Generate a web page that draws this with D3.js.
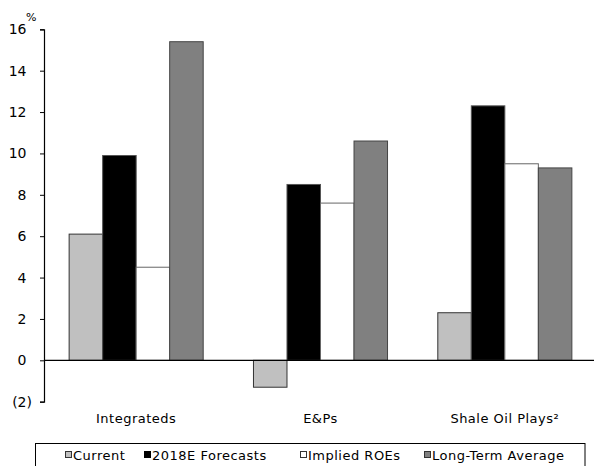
<!DOCTYPE html>
<html>
<head>
<meta charset="utf-8">
<script src="https://cdn.jsdelivr.net/npm/d3@7"></script>
<style>
  html, body { margin: 0; padding: 0; background: #fff; }
  svg text { font-family: "DejaVu Sans", Verdana, sans-serif; fill: #000; }
</style>
</head>
<body>
<svg id="chart" width="594" height="466"></svg>
<script>
// Return on equity by segment, %
const categories = ["Integrateds", "E&Ps", "Shale Oil Plays\u00B2"];
const seriesNames = ["Current", "2018E Forecasts", "Implied ROEs", "Long-Term Average"];
const current     = [6.1, -1.3, 2.3];
const forecast    = [9.9,  8.5, 12.3];
const impliedRoe  = [4.5,  7.6, 9.5];
const longTermAvg = [15.4, 10.6, 9.3];
const yTicks = [-2, 0, 2, 4, 6, 8, 10, 12, 14, 16];

const seriesValues = [current, forecast, impliedRoe, longTermAvg];
const fills   = ["#c0c0c0", "#000000", "#ffffff", "#808080"];
const strokes = ["#333333", "#555555", "#666666", "#444444"];

const svg = d3.select("#chart");
const plotLeft = 44, plotRight = 597, plotTop = 29.3, plotBottom = 401.7;

const x = d3.scaleBand().domain(categories).range([plotLeft, plotRight]).paddingInner(1.5 / 5.5).paddingOuter(0.75 / 5.5);
const xs = d3.scaleBand().domain(seriesNames).range([0, x.bandwidth()]);
const y = d3.scaleLinear().domain([-2, 16]).range([plotBottom, plotTop]);

// bars
const rows = categories.map((c, i) => ({ cat: c, vals: seriesNames.map((s, j) => ({ s, j, v: seriesValues[j][i] })) }));
const g = svg.append("g");
g.selectAll("g.cat").data(rows).join("g")
  .attr("transform", d => `translate(${x(d.cat)},0)`)
  .selectAll("rect").data(d => d.vals).join("rect")
  .attr("x", d => xs(d.s))
  .attr("width", xs.bandwidth())
  .attr("y", d => y(Math.max(0, d.v)))
  .attr("height", d => Math.abs(y(d.v) - y(0)))
  .attr("fill", d => fills[d.j])
  .attr("stroke", d => strokes[d.j])
  .attr("stroke-width", 1);

// zero line
svg.append("line")
  .attr("x1", plotLeft).attr("x2", plotRight)
  .attr("y1", y(0)).attr("y2", y(0))
  .attr("stroke", "#000").attr("stroke-width", 1.3);

// y axis
const fmt = v => v < 0 ? `(${Math.abs(v)})` : `${v}`;
const yAxis = svg.append("g")
  .attr("transform", `translate(${plotLeft},0)`)
  .call(d3.axisLeft(y).tickValues(yTicks).tickFormat(fmt).tickSize(4).tickSizeOuter(4).tickPadding(8));
yAxis.select(".domain").attr("stroke", "#000").attr("stroke-width", 1.2);
yAxis.selectAll(".tick line").attr("stroke", "#000");
yAxis.selectAll(".tick text")
  .attr("font-size", 14).attr("font-family", "DejaVu Sans")
  .attr("dx", d => d < 0 ? 0 : -5.5);

svg.append("text").attr("x", 26).attr("y", 21).attr("font-size", 11).text("%");

// category labels
svg.append("g").selectAll("text").data(categories).join("text")
  .attr("x", d => x(d) + x.bandwidth() / 2)
  .attr("y", 423.3)
  .attr("text-anchor", "middle")
  .attr("font-size", 13)
  .attr("letter-spacing", 0.5)
  .text(d => d);

// legend
svg.append("rect").attr("x", 35.5).attr("y", 443.5).attr("width", 549.5).attr("height", 40)
  .attr("fill", "none").attr("stroke", "#000").attr("stroke-width", 1);
const legendX = [65, 144, 300, 424];
const lg = svg.append("g").selectAll("g").data(seriesNames).join("g")
  .attr("transform", (d, i) => `translate(${legendX[i]},0)`);
lg.append("rect").attr("x", 0.5).attr("y", 451.5).attr("width", 6).attr("height", 6)
  .attr("fill", (d, i) => fills[i]).attr("stroke", (d, i) => i === 1 ? "#000" : "#333").attr("stroke-width", 1);
lg.append("text").attr("x", 8).attr("y", 460).attr("font-size", 13).attr("letter-spacing", 0.5).text(d => d);
</script>
</body>
</html>
